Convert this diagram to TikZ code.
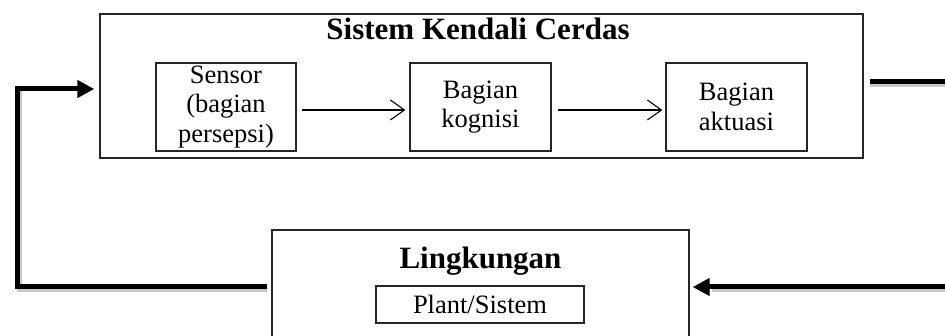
\documentclass[tikz,border=0pt]{standalone}
\usepackage{fontspec}
\setmainfont{Liberation Serif}
\usetikzlibrary{arrows.meta}
\tikzset{
  boxline/.style={draw=black!85, line width=1.3pt, inner sep=0pt},
  innerbox/.style={boxline, align=center, font=\fontsize{26.5}{29.5}\selectfont},
  titletext/.style={font=\fontsize{31}{34}\selectfont\bfseries, inner sep=0pt, anchor=base},
  thinarrow/.style={line width=1.1pt, -{Straight Barb[length=14pt,width=20pt,line width=1.1pt]}},
  thickline/.style={line width=5pt, line join=miter, line cap=butt},
  thickarrow/.style={thickline, -{Triangle[length=17pt,width=17pt]}},
  shadowline/.style={line width=5pt, draw=black!22, line join=miter},
}
\begin{document}
\begin{tikzpicture}[x=1pt,y=-1pt]
\useasboundingbox (0,0) rectangle (945,336);
\fill[white] (0,0) rectangle (945,336);
\clip (0,0) rectangle (945,336);

% outer system box
\node[boxline, minimum width=763pt, minimum height=144pt] (sys) at (481.5,86) {};
\node[titletext] (systitle) at (478,40) {Sistem Kendali Cerdas};

% inner boxes
\node[innerbox, minimum width=140pt, minimum height=88pt] (sensor) at (226,107) {Sensor\\(bagian\\persepsi)};
\node[innerbox, minimum width=141pt, minimum height=88pt] (kognisi) at (480.5,107) {Bagian\\kognisi};
\node[innerbox, minimum width=141pt, minimum height=88pt] (aktuasi) at (736.5,107) {Bagian\\aktuasi};

% environment box
\node[boxline, minimum width=417pt, minimum height=112pt] (lingk) at (480.5,286) {};
\node[titletext] (lingtitle) at (480.5,269) {Lingkungan};
\node[innerbox, minimum width=208pt, minimum height=37pt] (plant) at (480,304.5) {Plant/Sistem};

% thin arrows
\draw[thinarrow, shorten <=5pt, shorten >=4pt] ([yshift=-3pt]sensor.east) -- ([yshift=-3pt]kognisi.west);
\draw[thinarrow, shorten <=6pt, shorten >=3pt] ([yshift=-3pt]kognisi.east) -- ([yshift=-3pt]aktuasi.west);

% feedback coordinates
\coordinate (r1) at (955,82);
\coordinate (r2) at (955,287);
\coordinate (l1) at (17,287);
\coordinate (l2) at (17,89);

% shadows
\draw[shadowline] ([xshift=6pt,yshift=-2.5pt]sys.east |- r1) -- ([yshift=-2.5pt]r1);
\draw[shadowline] ([yshift=-2.5pt]r2) -- ([xshift=22pt,yshift=-2.5pt]lingk.east |- r2);
\draw[shadowline] ([xshift=-4pt,yshift=-2.5pt]lingk.west |- l1) -- ([xshift=2.5pt,yshift=-2.5pt]l1) -- ([xshift=2.5pt]l2);

% feedback loop
\draw[thickline] ([xshift=6pt]sys.east |- r1) -- (r1) -- (r2);
\draw[thickarrow, shorten >=3pt] (r2) -- (lingk.east |- r2);
\draw[thickarrow, shorten >=5pt] ([xshift=-4pt]lingk.west |- l1) -- (l1) -- (l2) -- (sys.west |- l2);
\end{tikzpicture}
\end{document}
